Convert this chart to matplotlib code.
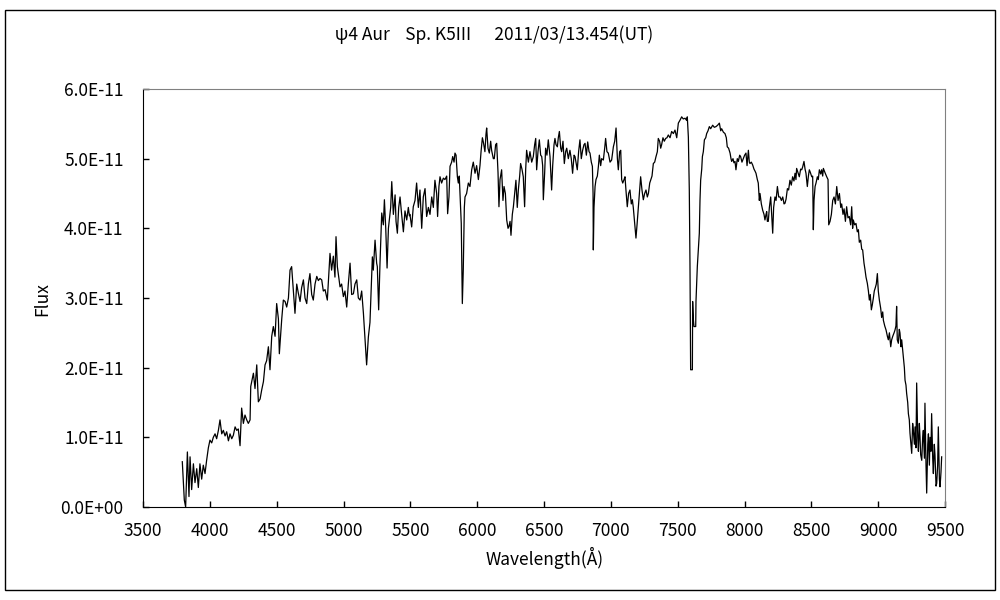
import matplotlib
matplotlib.use("Agg")
import matplotlib.pyplot as plt
from matplotlib.patches import Rectangle
from matplotlib.ticker import FuncFormatter, MultipleLocator

plt.rcParams['font.family'] = ['Noto Sans CJK JP', 'DejaVu Sans']

# Spektrum psi4 Aur (vlnová délka v Å, tok v jednotkách 1e-11)
wavelength = [
    3794, 3809, 3819, 3832, 3844, 3852, 3864, 3877, 3889, 3902, 3914, 3926, 3939, 3951, 3964, 3976,
    3989, 4001, 4014, 4026, 4039, 4051, 4064, 4076, 4089, 4101, 4114, 4126, 4139, 4151, 4164, 4176,
    4189, 4201, 4213, 4226, 4238, 4251, 4263, 4276, 4288, 4301, 4306, 4326, 4338, 4351, 4363, 4376,
    4388, 4401, 4413, 4425, 4438, 4450, 4463, 4475, 4488, 4500, 4513, 4520, 4538, 4550, 4563, 4575,
    4588, 4600, 4612, 4625, 4637, 4650, 4662, 4675, 4687, 4700, 4712, 4725, 4737, 4749, 4762, 4774,
    4787, 4800, 4812, 4824, 4837, 4849, 4862, 4879, 4899, 4911, 4924, 4936, 4944, 4954, 4961, 4974,
    4986, 4999, 5011, 5024, 5036, 5049, 5061, 5074, 5086, 5099, 5111, 5124, 5136, 5149, 5161, 5173,
    5186, 5198, 5216, 5223, 5236, 5248, 5253, 5263, 5273, 5286, 5298, 5306, 5316, 5326, 5336, 5343,
    5353, 5361, 5373, 5386, 5393, 5403, 5413, 5423, 5435, 5448, 5460, 5473, 5485, 5493,
    5497, 5510, 5522, 5535, 5547, 5560, 5572, 5585, 5597, 5610, 5622, 5635, 5647, 5660, 5672, 5684,
    5697, 5704, 5714, 5722, 5734, 5747, 5759, 5772, 5779, 5789, 5797, 5809, 5817, 5827, 5834, 5842,
    5852, 5859, 5866, 5874, 5881, 5889, 5896, 5904, 5909, 5921, 5934, 5946, 5959, 5971, 5984, 5996,
    6009, 6021, 6029, 6039, 6046, 6058, 6066, 6071, 6081, 6091, 6101, 6108, 6121, 6128, 6138, 6146,
    6156, 6163, 6171, 6183, 6193, 6201, 6211, 6221, 6231, 6238, 6246, 6253, 6263, 6271, 6283, 6290,
    6300, 6308, 6318, 6325, 6335, 6345, 6355, 6363, 6370, 6383, 6395, 6408, 6420, 6430, 6438, 6445,
    6455, 6465, 6475, 6483, 6490, 6495, 6505, 6512, 6522, 6532, 6545, 6557, 6565, 6575, 6582, 6590,
    6600, 6607, 6615, 6625, 6632, 6642, 6652, 6662, 6670, 6682, 6694, 6704, 6714, 6725, 6732, 6739,
    6749, 6759, 6769, 6779, 6789, 6799, 6807, 6817, 6827, 6837, 6844, 6854, 6862, 6867, 6869, 6874,
    6882, 6889, 6899, 6907, 6914, 6924, 6931, 6944, 6954, 6961, 6971, 6981, 6994, 7006, 7019, 7029,
    7039, 7049, 7056, 7066, 7074, 7081, 7089, 7099, 7106, 7113, 7123, 7133, 7143, 7153, 7161, 7168,
    7176, 7183, 7188, 7196, 7206, 7213, 7223, 7233, 7243, 7253, 7263, 7273, 7281, 7291, 7298, 7308,
    7318, 7328, 7338, 7348, 7355, 7365, 7373, 7380, 7390, 7400, 7410, 7420, 7430, 7443, 7455, 7468,
    7480, 7493, 7505,
    7517, 7530, 7542, 7555, 7567, 7572, 7580, 7587, 7592, 7597, 7610, 7612, 7617, 7622, 7635, 7637,
    7647, 7655, 7662, 7667, 7672, 7680, 7685, 7692, 7700, 7710, 7717, 7727, 7737, 7747, 7762, 7774,
    7787, 7799, 7812, 7822, 7829, 7842, 7854, 7864, 7871, 7881, 7892, 7899, 7904, 7914, 7921, 7929,
    7936, 7946, 7954, 7964, 7971, 7981, 7991, 8001, 8011, 8019, 8029, 8036, 8041, 8051, 8061, 8071,
    8079, 8086, 8096, 8103, 8111, 8116, 8126, 8136, 8146, 8153, 8161, 8166, 8171, 8178, 8186, 8196,
    8203, 8211, 8218, 8228, 8236, 8246, 8256, 8266, 8276, 8286, 8296, 8303, 8311, 8321, 8330, 8340,
    8350, 8360, 8370, 8378, 8385, 8390, 8400, 8410, 8420, 8428, 8435, 8445, 8453, 8460, 8465, 8470,
    8478, 8485, 8493, 8503, 8510, 8515, 8520, 8528, 8535, 8545, 8552, 8560, 8570, 8577, 8585, 8590,
    8602, 8615, 8625, 8630, 8640, 8650, 8660, 8670, 8680, 8690, 8700, 8710, 8720, 8727, 8737, 8745,
    8755, 8764, 8774, 8784, 8794, 8802, 8809, 8814, 8824, 8834, 8844, 8852, 8859, 8869, 8877, 8884,
    8894, 8902, 8909, 8919, 8927, 8934, 8941, 8949, 8956, 8964, 8971, 8979, 8986, 8994, 9001, 9009,
    9019, 9026, 9034, 9039, 9049, 9059, 9069, 9076, 9084, 9094, 9101, 9109, 9119, 9126, 9133, 9138,
    9143, 9151, 9158, 9163, 9171, 9176, 9183, 9188, 9196, 9201, 9208, 9213, 9221, 9226, 9233, 9238,
    9243, 9251, 9258, 9263, 9271, 9276, 9283, 9288, 9296, 9301, 9308, 9313, 9318, 9326, 9333, 9338,
    9346, 9350, 9358, 9363, 9371, 9376, 9383, 9388, 9395, 9400, 9408, 9413, 9420, 9425, 9433, 9438,
    9445, 9450, 9458, 9463, 9470, 9475,
]
flux = [
    0.65, 0.10, 0.00, 0.79, 0.15, 0.72, 0.25, 0.62, 0.35, 0.55, 0.28, 0.62, 0.40, 0.60, 0.48, 0.67,
    0.85, 0.96, 0.92, 1.00, 1.05, 0.98, 1.10, 1.25, 1.05, 1.10, 1.02, 1.08, 0.95, 1.05, 0.98, 1.03,
    1.15, 1.10, 1.12, 0.88, 1.42, 1.20, 1.32, 1.25, 1.20, 1.25, 1.73, 1.92, 1.70, 2.04, 1.51, 1.55,
    1.68, 1.80, 2.04, 2.10, 2.30, 1.97, 2.45, 2.59, 2.45, 2.92, 2.70, 2.20, 2.70, 2.97, 2.95, 2.87,
    3.00, 3.40, 3.45, 3.10, 2.78, 3.20, 3.07, 2.95, 3.15, 3.26, 3.00, 2.92, 3.20, 3.35, 3.05, 2.97,
    3.20, 3.31, 3.25, 3.28, 3.26, 3.10, 3.12, 2.97, 3.64, 3.40, 3.60, 3.30, 3.88, 3.45, 3.35, 3.16,
    3.20, 3.02, 3.10, 2.87, 3.20, 3.50, 3.05, 3.06, 3.20, 3.26, 3.00, 2.97, 3.10, 2.78, 2.40, 2.04,
    2.44, 2.65, 3.59, 3.40, 3.83, 3.50, 3.45, 2.83, 3.50, 4.22, 4.05, 4.41, 4.00, 3.43, 4.00, 4.12,
    4.30, 4.67, 4.20, 4.48, 4.10, 3.93, 4.30, 4.45, 4.20, 3.95, 4.25, 4.12, 4.30, 4.18,
    4.20, 4.02, 4.31, 4.40, 4.65, 4.30, 4.55, 4.00, 4.45, 4.57, 4.17, 4.30, 4.20, 4.45, 4.30, 4.69,
    4.50, 4.17, 4.60, 4.74, 4.65, 4.72, 4.70, 4.75, 4.21, 4.45, 4.89, 4.95, 5.03, 4.95, 5.08, 5.05,
    4.74, 4.65, 4.75, 4.40, 4.07, 2.92, 3.40, 4.30, 4.45, 4.50, 4.65, 4.60, 4.84, 4.95, 4.79, 4.90,
    4.70, 4.90, 5.10, 5.30, 5.24, 5.10, 5.35, 5.44, 5.15, 5.08, 5.25, 5.12, 5.00, 5.00, 5.20, 5.22,
    4.80, 4.31, 4.70, 4.84, 4.40, 4.60, 4.50, 4.12, 4.00, 4.03, 4.10, 3.90, 4.20, 4.31, 4.55, 4.69,
    4.30, 4.55, 4.75, 4.93, 4.85, 4.74, 4.31, 4.85, 5.12, 4.95, 5.10, 4.95, 5.03, 5.20, 5.29, 4.84,
    5.10, 5.27, 5.05, 5.03, 4.90, 4.41, 4.80, 5.15, 5.05, 5.27, 5.03, 4.55, 4.90, 5.20, 5.29, 5.20,
    5.17, 5.30, 5.39, 5.15, 5.10, 5.25, 4.93, 5.10, 5.15, 5.00, 5.12, 5.00, 4.79, 5.05, 5.03, 4.95,
    4.84, 5.10, 5.27, 5.00, 5.12, 5.20, 5.22, 5.05, 5.24, 5.10, 5.08, 4.95, 4.89, 4.50, 3.69, 4.30,
    4.60, 4.70, 4.75, 4.89, 5.05, 4.90, 5.00, 4.98, 5.15, 5.29, 5.10, 5.08, 4.95, 4.98, 5.17, 5.25,
    5.44, 5.00, 4.84, 5.10, 5.12, 4.70, 4.65, 4.70, 4.74, 4.55, 4.31, 4.50, 4.55, 4.35, 4.41, 4.30,
    4.12, 3.95, 3.86, 4.05, 4.31, 4.50, 4.74, 4.55, 4.41, 4.50, 4.55, 4.45, 4.50, 4.65, 4.69, 4.75,
    4.93, 4.95, 5.03, 5.10, 5.29, 5.25, 5.15, 5.20, 5.30, 5.25, 5.29, 5.30, 5.34, 5.30, 5.39, 5.36,
    5.41, 5.30, 5.51,
    5.55, 5.60, 5.57, 5.58, 5.55, 5.60, 5.31, 4.55, 3.50, 1.97, 1.97, 2.95, 2.70, 2.59, 2.59, 2.95,
    3.45, 3.70, 3.93, 4.40, 4.69, 4.85, 5.03, 5.10, 5.27, 5.30, 5.36, 5.40, 5.46, 5.43, 5.48, 5.45,
    5.46, 5.48, 5.51, 5.40, 5.43, 5.38, 5.36, 5.30, 5.17, 5.15, 5.08, 5.00, 4.96, 5.00, 4.94, 4.96,
    4.84, 5.00, 4.96, 5.05, 5.03, 4.95, 5.00, 5.05, 5.08, 4.90, 5.12, 4.95, 4.93, 4.95, 4.91, 4.85,
    4.82, 4.79, 4.70, 4.65, 4.40, 4.50, 4.35, 4.26, 4.20, 4.12, 4.20, 4.24, 4.10, 4.10, 4.30, 4.45,
    4.20, 3.93, 4.30, 4.45, 4.40, 4.60, 4.45, 4.45, 4.40, 4.45, 4.35, 4.36, 4.42, 4.57, 4.55, 4.69,
    4.62, 4.74, 4.68, 4.79, 4.70, 4.86, 4.80, 4.74, 4.85, 4.84, 4.88, 4.96, 4.85, 4.79, 4.70, 4.60,
    4.75, 4.84, 4.80, 4.74, 4.75, 3.98, 4.40, 4.60, 4.65, 4.74, 4.70, 4.84, 4.78, 4.84, 4.75, 4.86,
    4.80, 4.74, 4.70, 4.05, 4.10, 4.20, 4.40, 4.45, 4.35, 4.60, 4.40, 4.50, 4.30, 4.35, 4.20, 4.28,
    4.10, 4.31, 4.15, 4.17, 4.05, 4.31, 4.00, 4.12, 4.05, 4.07, 3.95, 3.98, 3.80, 3.83, 3.70, 3.69,
    3.50, 3.40, 3.30, 3.21, 3.10, 2.97, 3.05, 2.83, 2.90, 3.00, 3.10, 3.15, 3.20, 3.35, 3.10, 2.97,
    2.85, 2.72, 2.80, 2.68, 2.60, 2.54, 2.45, 2.40, 2.50, 2.30, 2.40, 2.45, 2.50, 2.54, 2.60, 2.88,
    2.40, 2.35, 2.55, 2.50, 2.30, 2.40, 2.25, 2.16, 2.00, 1.82, 1.75, 1.63, 1.50, 1.34, 1.25, 1.06,
    0.95, 0.77, 1.20, 1.10, 0.90, 1.15, 0.85, 1.78, 1.00, 0.80, 1.20, 1.00, 0.75, 0.67, 1.00, 1.10,
    0.70, 1.49, 0.60, 0.20, 0.90, 1.05, 0.60, 1.00, 0.80, 1.34, 0.70, 0.48, 0.90, 0.75, 0.30, 0.34,
    0.60, 1.15, 0.40, 0.29, 0.50, 0.72,
]

fig = plt.figure(figsize=(10, 6), dpi=100)
ax = fig.add_axes([0.143, 0.155, 0.802, 0.6967])

ax.plot(wavelength, [f * 1e-11 for f in flux], color='black', lw=0.9)

ax.set_xlim(3500, 9500)
ax.set_ylim(0, 6e-11)
ax.xaxis.set_major_locator(MultipleLocator(500))
ax.yaxis.set_major_locator(MultipleLocator(1e-11))


def fmt_y(v, pos):
    if abs(v) < 1e-15:
        return "0.0E+00"
    return f"{v / 1e-11:.1f}E-11"


ax.yaxis.set_major_formatter(FuncFormatter(fmt_y))
ax.tick_params(direction='in', length=4, width=1, labelsize=12.5, color='black')
ax.tick_params(axis='y', pad=14)
ax.tick_params(axis='x', pad=11)

for s in ['top', 'right']:
    ax.spines[s].set_color('#808080')
for s in ['left', 'bottom']:
    ax.spines[s].set_color('black')

fig.text(0.545, 1 - 558 / 600, 'Wavelength(Å)', ha='center', va='center', fontsize=12.5)
fig.text(0.042, 1 - 299 / 600, 'Flux', rotation=90, ha='center', va='center', fontsize=12.5)
fig.text(0.494, 1 - 35 / 600, 'ψ4 Aur    Sp. K5III      2011/03/13.454(UT)',
         ha='center', va='center', fontsize=12.5)

fig.patches.append(Rectangle((0.005, 10 / 600), 0.99, 580 / 600, transform=fig.transFigure,
                             fill=False, edgecolor='black', lw=1))

fig.savefig('out.png', dpi=100)
